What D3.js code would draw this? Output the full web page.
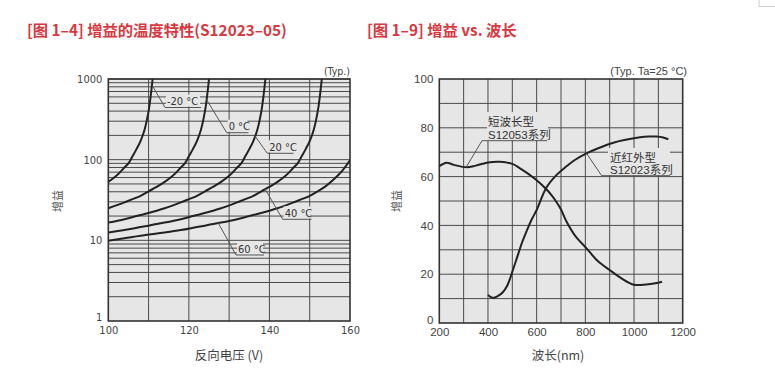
<!DOCTYPE html>
<html><head><meta charset="utf-8">
<script src="https://cdn.jsdelivr.net/npm/d3@7"></script>
<style>
body{margin:0;background:#fff;}
svg text{font-family:"Liberation Sans","Noto Sans CJK SC",sans-serif;}
</style></head>
<body><svg id="c" width="775" height="381"></svg>
<script>
// ---------- Data: chart 1 (gain vs reverse voltage) ----------
const tempLabels = ["-20 °C","0 °C","20 °C","40 °C","60 °C"];
const voltM20 = [100,102,104,105,106,107,108,109,110,110.5,111];
const gainM20 = [53,63,80,90,110,135,170,235,400,600,1000];
const volt0 = [100,104,108,110,112,114,116,118,119,120,121,122,123,124,124.5,125];
const gain0  = [25,29.6,35.5,40.5,46,53,63,80,90,110,135,170,235,400,600,1000];
const volt20 = [100,104,108,114,118,122,124,126,128,130,132,133,134,135,136,137,138,138.5,139];
const gain20 = [16.6,18.3,20.6,25,29.6,35.5,40.5,46,53,63,80,90,110,135,170,235,400,600,1000];
const volt40 = [100,104,108,114,118,122,128,132,136,138,140,142,144,146,147,148,149,150,151,152,152.5,153];
const gain40 = [12.5,13.4,14.6,16.6,18.3,20.6,25,29.6,35.5,40.5,46,53,63,80,90,110,135,170,235,400,600,1000];
const volt60 = [100,104,108,114,118,122,128,132,136,142,146,150,152,154,156,158,160];
const gain60 = [9.9,10.6,11.4,12.5,13.4,14.6,16.6,18.3,20.6,25,29.6,35.5,40.5,47,57,72,98];
const voltTicks = [100,120,140,160];
const gainTicks = [1,10,100,1000];

// ---------- Data: chart 2 (gain vs wavelength) ----------
const wlShort = [200,230,260,313,350,400,450,500,530,560,600,640,660,680,700,723,760,805,850,900,950,1000,1050,1100,1115];
const gainShort = [64.3,65.7,64.8,63.8,64.5,65.8,66.1,65.2,63.5,61.5,58.5,54.8,52.5,49.8,46.5,41.5,35.5,30.6,25.5,21.7,18.2,15.7,15.8,16.5,16.9];
const wlNIR = [400,420,440,460,480,500,520,540,560,580,600,640,680,720,760,805,850,915,960,1025,1060,1093,1120,1141];
const gainNIR = [11.5,10.3,11,12.5,15.5,21,27,33,38,42.5,46.3,55.5,60.5,64,67,69.5,71.5,73.9,75,76.1,76.4,76.4,76,75.3];
const wlTicks = [200,400,600,800,1000,1200];
const pctTicks = [0,20,40,60,80,100];

const svg = d3.select("#c");
const red = "#d8383f", bg = "#e6e6e7", grid = "#4a4a4a", ink = "#222", tickCol = "#444";
const cond = "'DejaVu Sans Condensed','DejaVu Sans',sans-serif";
const cjk = "'Noto Sans CJK SC',sans-serif";

// corner artifact top right
svg.append("path").attr("d","M759,0V6.5H775").attr("fill","none").attr("stroke","#ccc").attr("stroke-width",1);

// Titles
svg.append("text").attr("x",27).attr("y",36).attr("fill",red).attr("font-size",15.3).attr("font-weight","bold")
  .style("font-family",cjk).text("[图 1–4] 增益的温度特性(S12023–05)");
svg.append("text").attr("x",367).attr("y",36).attr("fill",red).attr("font-size",15.3).attr("font-weight","bold")
  .style("font-family",cjk).text("[图 1–9] 增益 vs. 波长");

// ---------- Chart 1 ----------
const x1 = d3.scaleLinear().domain([100,160]).range([108.3,350]);
const y1 = d3.scaleLog().domain([1,1000]).range([321,79]);
const g1 = svg.append("g");
g1.append("rect").attr("x",x1(100)).attr("y",y1(1000)).attr("width",x1(160)-x1(100)).attr("height",y1(1)-y1(1000)).attr("fill",bg);
const minorVals = [];
[1,10,100].forEach(d=>{for(let k=2;k<=10;k++) minorVals.push(d*k);});
g1.append("g").selectAll("line").data(minorVals).join("line")
  .attr("x1",x1(100)).attr("x2",x1(160)).attr("y1",d=>y1(d)).attr("y2",d=>y1(d))
  .attr("stroke",grid).attr("stroke-width",1);
g1.append("g").selectAll("line").data(d3.range(110,160,10)).join("line")
  .attr("y1",y1(1)).attr("y2",y1(1000)).attr("x1",d=>x1(d)).attr("x2",d=>x1(d))
  .attr("stroke",grid).attr("stroke-width",1);
g1.append("rect").attr("x",x1(100)).attr("y",y1(1000)).attr("width",x1(160)-x1(100)).attr("height",y1(1)-y1(1000))
  .attr("fill","none").attr("stroke","#333").attr("stroke-width",1.6);

const ax1 = d3.axisBottom(x1).tickValues(voltTicks).tickSize(0).tickPadding(5);
const gx1 = g1.append("g").attr("transform",`translate(0,${y1(1)})`).call(ax1);
gx1.select(".domain").remove();
gx1.selectAll("text").attr("font-size",11).attr("fill",tickCol).style("font-family",cond);
const ay1 = d3.axisLeft(y1).tickValues(gainTicks).tickFormat(d3.format("d")).tickSize(0).tickPadding(6);
const gy1 = g1.append("g").attr("transform",`translate(${x1(100)},0)`).call(ay1);
gy1.select(".domain").remove();
gy1.selectAll("text").attr("font-size",11).attr("fill",tickCol).style("font-family",cond)
  .attr("dy",d=>d===1?"-0.05em":"0.32em");

const clip1 = svg.append("clipPath").attr("id","clip1").append("rect")
  .attr("x",x1(100)).attr("y",y1(1000)).attr("width",x1(160)-x1(100)).attr("height",y1(1)-y1(1000));
const line1 = d3.line().x(d=>x1(d[0])).y(d=>y1(d[1])).curve(d3.curveCatmullRom.alpha(0.5));
const series1 = [[voltM20,gainM20],[volt0,gain0],[volt20,gain20],[volt40,gain40],[volt60,gain60]];
g1.append("g").attr("clip-path","url(#clip1)").selectAll("path").data(series1).join("path")
  .attr("d",s=>line1(d3.zip(s[0],s[1]))).attr("fill","none").attr("stroke",ink).attr("stroke-width",2);

// labels for chart 1: curve point (V,gain), elbow(px), underline end(px)
const lab1 = [
  {t:tempLabels[0], p:[111.1,800], e:[165,107.5], u:201},
  {t:tempLabels[1], p:[124.35,560], e:[226.7,132.7], u:248.5},
  {t:tempLabels[2], p:[136.3,200], e:[267.3,153.3], u:293.5},
  {t:tempLabels[3], p:[138.9,43.5], e:[282.7,219.3], u:311.5},
  {t:tempLabels[4], p:[127.3,16.4], e:[236,255], u:264}
];
lab1.forEach(l=>{
  g1.append("rect").attr("x",l.e[0]+1).attr("y",l.e[1]-13).attr("width",l.u-l.e[0]-2).attr("height",12).attr("fill",bg);
  g1.append("path").attr("d",`M${x1(l.p[0])},${y1(l.p[1])}L${l.e[0]},${l.e[1]}H${l.u}`)
    .attr("fill","none").attr("stroke","#555").attr("stroke-width",1);
  g1.append("text").attr("x",l.e[0]+2).attr("y",l.e[1]-2.5).attr("font-size",11).attr("fill","#333")
    .style("font-family",cond).text(l.t);
});
g1.append("text").attr("x",350).attr("y",75).attr("text-anchor","end").attr("font-size",10.5).attr("fill","#444")
  .style("font-family",cond).text("(Typ.)");
g1.append("text").attr("x",229).attr("y",360).attr("text-anchor","middle").attr("font-size",12.5).attr("fill","#444")
  .style("font-family",cjk).text("反向电压 (V)");
g1.append("text").attr("transform","translate(62,201) rotate(-90)").attr("text-anchor","middle").attr("font-size",11).attr("fill","#555")
  .style("font-family",cjk).text("增益");

// ---------- Chart 2 ----------
const x2 = d3.scaleLinear().domain([200,1200]).range([439.3,682.7]);
const y2 = d3.scaleLinear().domain([0,100]).range([323,79]);
const g2 = svg.append("g");
g2.append("rect").attr("x",x2(200)).attr("y",y2(100)).attr("width",x2(1200)-x2(200)).attr("height",y2(0)-y2(100)).attr("fill",bg);
g2.append("g").selectAll("line").data(d3.range(10,100,10)).join("line")
  .attr("x1",x2(200)).attr("x2",x2(1200)).attr("y1",d=>y2(d)).attr("y2",d=>y2(d)).attr("stroke",grid).attr("stroke-width",1);
g2.append("g").selectAll("line").data(d3.range(300,1200,100)).join("line")
  .attr("y1",y2(0)).attr("y2",y2(100)).attr("x1",d=>x2(d)).attr("x2",d=>x2(d)).attr("stroke",grid).attr("stroke-width",1);
g2.append("rect").attr("x",x2(200)).attr("y",y2(100)).attr("width",x2(1200)-x2(200)).attr("height",y2(0)-y2(100))
  .attr("fill","none").attr("stroke","#333").attr("stroke-width",1.6);

const ax2 = d3.axisBottom(x2).tickValues(wlTicks).tickFormat(d3.format("d")).tickSize(0).tickPadding(5);
const gx2 = g2.append("g").attr("transform",`translate(0,${y2(0)})`).call(ax2);
gx2.select(".domain").remove();
gx2.selectAll("text").attr("font-size",11.5).attr("fill",tickCol);
const ay2 = d3.axisLeft(y2).tickValues(pctTicks).tickFormat(d3.format("d")).tickSize(0).tickPadding(6);
const gy2 = g2.append("g").attr("transform",`translate(${x2(200)},0)`).call(ay2);
gy2.select(".domain").remove();
gy2.selectAll("text").attr("font-size",11.5).attr("fill",tickCol).attr("dy",d=>d===0?"0.05em":"0.32em");

// label backgrounds first
g2.append("rect").attr("x",487).attr("y",112).attr("width",61).attr("height",28).attr("fill",bg);
g2.append("rect").attr("x",608).attr("y",148).attr("width",62).attr("height",27).attr("fill",bg);

const line2 = d3.line().x(d=>x2(d[0])).y(d=>y2(d[1])).curve(d3.curveCatmullRom);
g2.append("path").attr("d",line2(d3.zip(wlShort,gainShort))).attr("fill","none").attr("stroke",ink).attr("stroke-width",2);
g2.append("path").attr("d",line2(d3.zip(wlNIR,gainNIR))).attr("fill","none").attr("stroke",ink).attr("stroke-width",2);

g2.append("path").attr("d",`M${x2(313)},${y2(64.3)}L482,140.7H547`).attr("fill","none").attr("stroke","#555").attr("stroke-width",1);
g2.append("path").attr("d",`M${x2(805)},${y2(69.5)}L601.7,175.7H670`).attr("fill","none").attr("stroke","#555").attr("stroke-width",1);
const lblFont = "'Liberation Sans','Noto Sans CJK SC',sans-serif";
g2.append("text").attr("x",488).attr("y",126).attr("font-size",11.5).attr("fill","#333").style("font-family",lblFont).text("短波长型");
g2.append("text").attr("x",488).attr("y",138.5).attr("font-size",11.5).attr("fill","#333").style("font-family",lblFont).text("S12053系列");
g2.append("text").attr("x",610).attr("y",162).attr("font-size",11.5).attr("fill","#333").style("font-family",lblFont).text("近红外型");
g2.append("text").attr("x",610).attr("y",174).attr("font-size",11.5).attr("fill","#333").style("font-family",lblFont).text("S12023系列");

g2.append("text").attr("x",687).attr("y",75).attr("text-anchor","end").attr("font-size",11).attr("fill","#444").text("(Typ. Ta=25 °C)");
g2.append("text").attr("x",558).attr("y",360).attr("text-anchor","middle").attr("font-size",12.5).attr("fill","#444")
  .style("font-family",cjk).text("波长(nm)");
g2.append("text").attr("transform","translate(401,201) rotate(-90)").attr("text-anchor","middle").attr("font-size",11).attr("fill","#555")
  .style("font-family",cjk).text("增益");
</script></body></html>
